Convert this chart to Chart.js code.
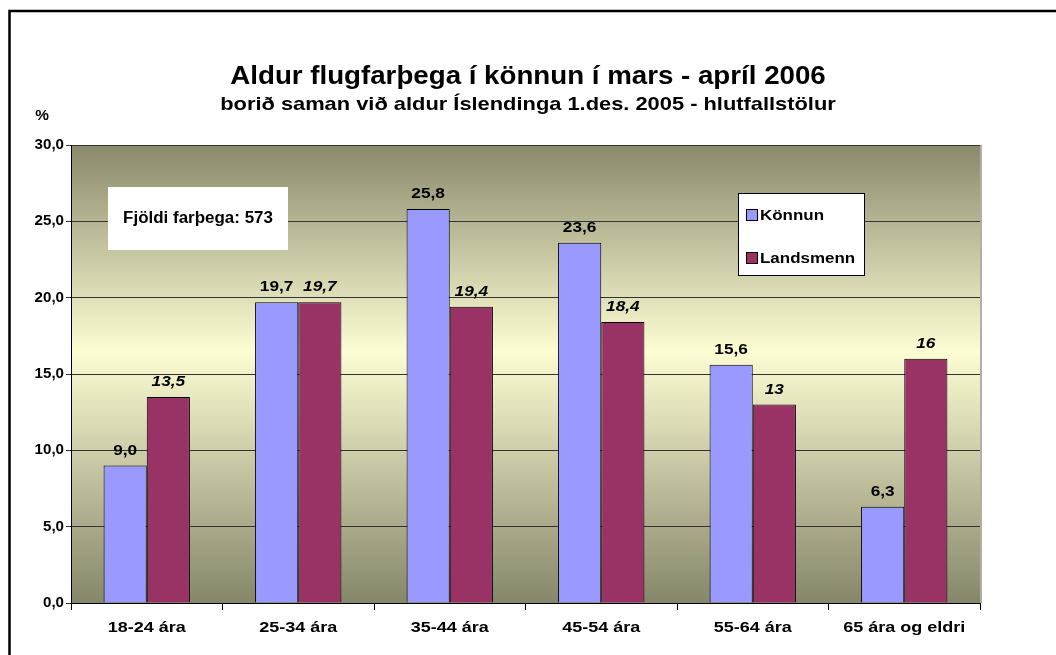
<!DOCTYPE html>
<html>
<head>
<meta charset="utf-8">
<script src="https://cdn.jsdelivr.net/npm/chart.js@4"></script>
<style>
  html, body { margin: 0; padding: 0; background: #fff; }
  #wrap { width: 1056px; height: 655px; position: relative; }
</style>
</head>
<body>
<div id="wrap"><canvas id="myChart" width="1056" height="655"></canvas></div>
<script>
// data
const categories = ['18-24 ára', '25-34 ára', '35-44 ára', '45-54 ára', '55-64 ára', '65 ára og eldri'];
const konnun = [9.0, 19.7, 25.8, 23.6, 15.6, 6.3];
const landsmenn = [13.5, 19.7, 19.4, 18.4, 13, 16];
const yTicks = [0, 5, 10, 15, 20, 25, 30];

const titleText = 'Aldur flugfarþega í könnun í mars - apríl 2006';
const subtitleText = 'borið saman við aldur Íslendinga 1.des. 2005 - hlutfallstölur';
const noteText = 'Fjöldi farþega: 573';

const FONT = '"Liberation Sans", Arial, Helvetica, sans-serif';

// icelandic decimal comma
function fmt1(v) { return v.toFixed(1).replace('.', ','); }
function fmtRaw(v) { return String(v).replace('.', ','); }

// the original text is a bit wider than Arial, so stretch it sideways
function wideText(ctx, txt, x, y, sx, align) {
  ctx.save();
  ctx.translate(x, y);
  ctx.scale(sx, 1);
  ctx.textAlign = align || 'center';
  ctx.fillText(txt, 0, 0);
  ctx.restore();
}

// draws gradient behind plot, frame, titles, boxes and value labels
const decorPlugin = {
  id: 'decor',
  beforeDraw(chart) {
    const ctx = chart.ctx;
    const a = chart.chartArea;
    ctx.save();
    ctx.fillStyle = '#fff';
    ctx.fillRect(0, 0, chart.width, chart.height);
    let g = ctx.createLinearGradient(0, a.top, 0, a.bottom);
    g.addColorStop(0, '#8a8a6c');
    g.addColorStop(0.45, '#fdfdd4');
    g.addColorStop(1, '#86866a');
    ctx.fillStyle = g;
    ctx.fillRect(a.left, a.top, a.right - a.left, a.bottom - a.top);
    // slight shadow right edge
    ctx.fillStyle = '#b0b0a8';
    ctx.fillRect(a.right, a.top, 2, a.bottom - a.top);
    ctx.restore();
  },
  afterDraw(chart) {
    const ctx = chart.ctx;
    const a = chart.chartArea;
    ctx.save();

    // outer frame
    ctx.strokeStyle = '#000';
    ctx.lineWidth = 2.5;
    ctx.beginPath();
    ctx.moveTo(9.5, 700);
    ctx.lineTo(9.5, 11);
    ctx.lineTo(1100, 11);
    ctx.stroke();

    // titles
    ctx.fillStyle = '#000';
    ctx.textBaseline = 'middle';
    ctx.font = 'bold 26px ' + FONT;
    wideText(ctx, titleText, 528, 77, 1.065);
    ctx.font = 'bold 19px ' + FONT;
    wideText(ctx, subtitleText, 528, 105, 1.15);

    // axis unit
    ctx.font = 'bold 14px ' + FONT;
    wideText(ctx, '%', 42, 116, 1.1);

    // tick labels, placed by the scales
    const xs = chart.scales.x, ys = chart.scales.y;
    ctx.font = 'bold 14px ' + FONT;
    yTicks.forEach(v => {
      wideText(ctx, fmt1(v), 64, ys.getPixelForValue(v), 1.08, 'right');
    });
    ctx.font = 'bold 15px ' + FONT;
    categories.forEach((c, i) => {
      wideText(ctx, c, xs.getPixelForValue(i), 628, 1.2);
    });

    // value labels
    chart.data.datasets.forEach((ds, di) => {
      const meta = chart.getDatasetMeta(di);
      ctx.font = (di === 1 ? 'italic ' : '') + 'bold 15px ' + FONT;
      meta.data.forEach((bar, i) => {
        const v = ds.data[i];
        const txt = di === 0 ? fmt1(v) : fmtRaw(v);
        wideText(ctx, txt, bar.x, bar.y - 15, 1.15);
      });
    });

    // note box
    ctx.fillStyle = '#fff';
    ctx.fillRect(108, 187, 180, 63);
    ctx.fillStyle = '#000';
    ctx.font = 'bold 16px ' + FONT;
    wideText(ctx, noteText, 198, 219, 1.06);

    // legend box
    ctx.fillStyle = '#fff';
    ctx.fillRect(738, 193, 126, 82);
    ctx.strokeStyle = '#000';
    ctx.lineWidth = 1;
    ctx.strokeRect(738.5, 193.5, 126, 82);
    const rows = [215, 258];
    chart.data.datasets.forEach((ds, di) => {
      const y = rows[di];
      ctx.fillStyle = ds.backgroundColor;
      ctx.fillRect(746, y - 6, 11, 11);
      ctx.strokeStyle = '#000';
      ctx.strokeRect(746.5, y - 5.5, 11, 11);
      ctx.fillStyle = '#000';
      ctx.font = 'bold 15px ' + FONT;
      wideText(ctx, ds.label, 760, y + 1, 1.13, 'left');
    });
    ctx.restore();
  }
};

const ctx = document.getElementById('myChart').getContext('2d');

let options = {
  type: 'bar',
  data: {
    labels: categories,
    datasets: [
      {
        label: 'Könnun',
        data: konnun,
        backgroundColor: '#9999ff',
        borderColor: '#000',
        borderWidth: 1,
        categoryPercentage: 0.57,
        barPercentage: 1
      },
      {
        label: 'Landsmenn',
        data: landsmenn,
        backgroundColor: '#993366',
        borderColor: '#000',
        borderWidth: 1,
        categoryPercentage: 0.57,
        barPercentage: 1
      }
    ]
  },
  options: {
    responsive: false,
    animation: false,
    layout: { padding: { left: 0, top: 145, right: 76, bottom: 0 } },
    plugins: {
      legend: { display: false },
      title: { display: false },
      tooltip: { enabled: false }
    },
    scales: {
      x: {
        grid: { drawOnChartArea: false, color: '#000', tickLength: 7, offset: true },
        border: { color: '#000', width: 1 },
        ticks: { display: false },
        afterFit(scale) { scale.height = 52; }
      },
      y: {
        min: 0,
        max: 30,
        afterBuildTicks(scale) { scale.ticks = yTicks.map(v => ({ value: v })); },
        grid: { color: '#333', lineWidth: 1, tickLength: 5 },
        border: { color: '#000', width: 1 },
        ticks: { display: false },
        afterFit(scale) { scale.width = 71; }
      }
    }
  },
  plugins: [decorPlugin]
};

const myChart = new Chart(ctx, options);
</script>
</body>
</html>
